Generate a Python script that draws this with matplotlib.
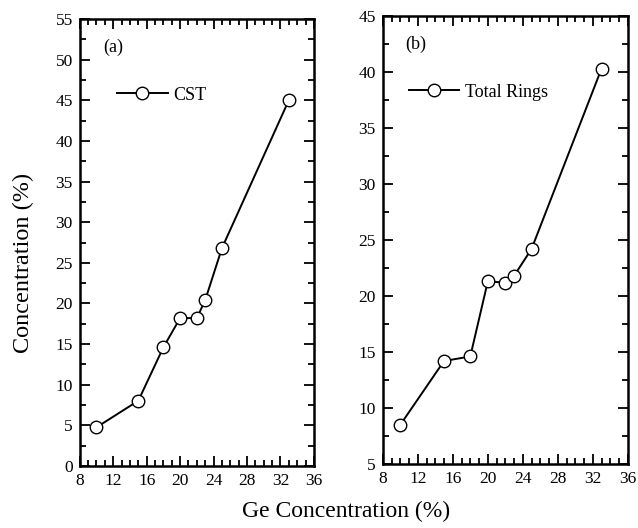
import matplotlib
matplotlib.use("Agg")
from matplotlib import pyplot as plt
from matplotlib.ticker import MultipleLocator

plt.rcParams["font.family"] = ["Liberation Serif", "DejaVu Serif"]

# data
ge = [10, 15, 18, 20, 22, 23, 25, 33]
cst = [4.76, 8.03, 14.6, 18.2, 18.2, 20.4, 26.8, 45.0]
rings = [8.5, 14.2, 14.6, 21.3, 21.2, 21.8, 24.2, 40.3]

fig = plt.figure(figsize=(6.38, 5.28), dpi=100)
ax1 = fig.add_axes([0.125, 0.1174, 0.367, 0.8466])
ax2 = fig.add_axes([0.600, 0.1212, 0.384, 0.8485])


def style(ax, ymin, ymax):
    ax.set_xlim(8, 36)
    ax.set_ylim(ymin, ymax)
    ax.xaxis.set_major_locator(MultipleLocator(4))
    ax.xaxis.set_minor_locator(MultipleLocator(1))
    ax.yaxis.set_major_locator(MultipleLocator(5))
    ax.yaxis.set_minor_locator(MultipleLocator(2.5))
    ax.tick_params(which="both", direction="in", top=True, right=True,
                   labelsize=12.5, width=1.3, pad=5)
    ax.tick_params(which="major", length=7)
    ax.tick_params(which="minor", length=4)
    for s in ax.spines.values():
        s.set_linewidth(1.8)


ax1.plot(ge, cst, color="black", lw=1.4, marker="o", markersize=9,
         markerfacecolor="white", markeredgecolor="black", markeredgewidth=1.0,
         label="CST")
style(ax1, 0, 55)
ax1.text(0.10, 0.937, "(a)", transform=ax1.transAxes, fontsize=13, va="center")
ax1.legend(loc="upper left", bbox_to_anchor=(0.09, 0.885), frameon=False,
           fontsize=13, handlelength=2.8, handletextpad=0.3)

ax2.plot(ge, rings, color="black", lw=1.4, marker="o", markersize=9,
         markerfacecolor="white", markeredgecolor="black", markeredgewidth=1.0,
         label="Total Rings")
style(ax2, 5, 45)
ax2.text(0.09, 0.937, "(b)", transform=ax2.transAxes, fontsize=13, va="center")
ax2.legend(loc="upper left", bbox_to_anchor=(0.04, 0.885), frameon=False,
           fontsize=13, handlelength=2.8, handletextpad=0.3)

fig.text(0.036, 0.502, "Concentration (%)", rotation=90, fontsize=17.5,
         ha="center", va="center")
fig.text(0.542, 0.012, "Ge Concentration (%)", fontsize=17,
         ha="center", va="bottom")

fig.savefig("out.png", dpi=100)
